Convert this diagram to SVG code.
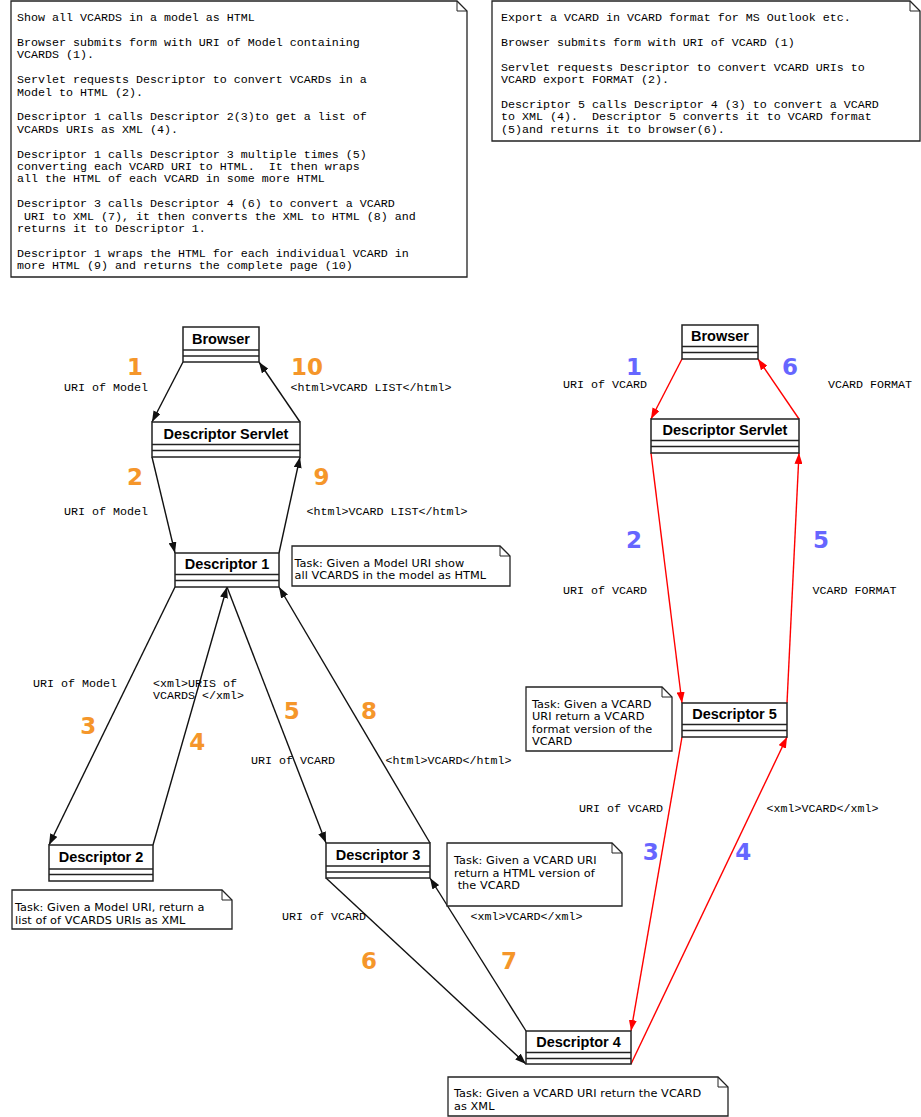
<svg xmlns="http://www.w3.org/2000/svg" width="921" height="1117" viewBox="0 0 921 1117">
<style>
.bg{fill:#fff}
.box{fill:#fff;stroke:#222;stroke-width:1.5}
.sep{stroke:#222;stroke-width:1.5}
.title{font-family:"Liberation Sans",Arial,sans-serif;font-weight:bold;font-size:14.5px;fill:#000;text-anchor:middle}
.note{fill:#fff;stroke:#222;stroke-width:1.3}
.fold{fill:none;stroke:#222;stroke-width:1}
.mono{font-family:"Liberation Mono","Courier New",monospace;font-size:11.67px;fill:#000;white-space:pre}
.task{font-family:"DejaVu Sans","Liberation Sans",sans-serif;font-size:11.3px;fill:#000;white-space:pre;letter-spacing:0.05px}
.num{font-family:"DejaVu Sans",sans-serif;font-weight:bold;font-size:23px;text-anchor:middle}
.or{fill:#F5962A}
.bl{fill:#6666FF}
.cb{stroke:#111;stroke-width:1.4;fill:none}
.cr{stroke:#FF0000;stroke-width:1.4;fill:none}
</style>
<defs>
<marker id="ab" markerWidth="11" markerHeight="8" refX="11" refY="4" orient="auto" markerUnits="userSpaceOnUse"><path d="M0,0 L11,4 L0,8 Z" fill="#111"/></marker>
<marker id="ar" markerWidth="11" markerHeight="8" refX="11" refY="4" orient="auto" markerUnits="userSpaceOnUse"><path d="M0,0 L11,4 L0,8 Z" fill="#FF0000"/></marker>
</defs>
<rect class="bg" x="0" y="0" width="921" height="1117"/>

<g id="note-left">
<path class="note" d="M11,1 H457 L467,11 V277 H11 Z"/>
<path class="fold" d="M457,1 V11 H467"/>
<text class="mono" x="17" y="21">Show all VCARDS in a model as HTML</text>
<text class="mono" x="17" y="46">Browser submits form with URI of Model containing</text>
<text class="mono" x="17" y="58.4">VCARDS (1).</text>
<text class="mono" x="17" y="83.2">Servlet requests Descriptor to convert VCARDs in a</text>
<text class="mono" x="17" y="95.6">Model to HTML (2).</text>
<text class="mono" x="17" y="120.4">Descriptor 1 calls Descriptor 2(3)to get a list of</text>
<text class="mono" x="17" y="132.8">VCARDs URIs as XML (4).</text>
<text class="mono" x="17" y="157.6">Descriptor 1 calls Descriptor 3 multiple times (5)</text>
<text class="mono" x="17" y="170">converting each VCARD URI to HTML.  It then wraps</text>
<text class="mono" x="17" y="182.4">all the HTML of each VCARD in some more HTML</text>
<text class="mono" x="17" y="207.2">Descriptor 3 calls Descriptor 4 (6) to convert a VCARD</text>
<text class="mono" x="17" y="219.6"> URI to XML (7), it then converts the XML to HTML (8) and</text>
<text class="mono" x="17" y="232">returns it to Descriptor 1.</text>
<text class="mono" x="17" y="256.8">Descriptor 1 wraps the HTML for each individual VCARD in</text>
<text class="mono" x="17" y="269.2">more HTML (9) and returns the complete page (10)</text>
</g>

<g id="note-right">
<path class="note" d="M492,1 H910 L920,11 V141 H492 Z"/>
<path class="fold" d="M910,1 V11 H920"/>
<text class="mono" x="501" y="21">Export a VCARD in VCARD format for MS Outlook etc.</text>
<text class="mono" x="501" y="45.8">Browser submits form with URI of VCARD (1)</text>
<text class="mono" x="501" y="70.6">Servlet requests Descriptor to convert VCARD URIs to</text>
<text class="mono" x="501" y="83">VCARD export FORMAT (2).</text>
<text class="mono" x="501" y="107.8">Descriptor 5 calls Descriptor 4 (3) to convert a VCARD</text>
<text class="mono" x="501" y="120.2">to XML (4).  Descriptor 5 converts it to VCARD format</text>
<text class="mono" x="501" y="132.6">(5)and returns it to browser(6).</text>
</g>

<g id="connectors">
<line class="cb" x1="183" y1="362" x2="152" y2="422" marker-end="url(#ab)"/>
<line class="cb" x1="300" y1="422" x2="259" y2="362" marker-end="url(#ab)"/>
<line class="cb" x1="152" y1="457" x2="175" y2="553" marker-end="url(#ab)"/>
<line class="cb" x1="279" y1="553" x2="300" y2="457" marker-end="url(#ab)"/>
<line class="cb" x1="175" y1="587" x2="49" y2="845" marker-end="url(#ab)"/>
<line class="cb" x1="153" y1="845" x2="227" y2="587" marker-end="url(#ab)"/>
<line class="cb" x1="227" y1="587" x2="326" y2="843" marker-end="url(#ab)"/>
<line class="cb" x1="430" y1="843" x2="279" y2="587" marker-end="url(#ab)"/>
<line class="cb" x1="326" y1="878" x2="526" y2="1064" marker-end="url(#ab)"/>
<line class="cb" x1="526" y1="1031" x2="430" y2="878" marker-end="url(#ab)"/>
<line class="cr" x1="682" y1="359" x2="651" y2="419" marker-end="url(#ar)"/>
<line class="cr" x1="799" y1="419" x2="758" y2="359" marker-end="url(#ar)"/>
<line class="cr" x1="651" y1="453" x2="682" y2="703" marker-end="url(#ar)"/>
<line class="cr" x1="787" y1="703" x2="799" y2="453" marker-end="url(#ar)"/>
<line class="cr" x1="682" y1="737" x2="631" y2="1031" marker-end="url(#ar)"/>
<line class="cr" x1="631" y1="1064" x2="787" y2="737" marker-end="url(#ar)"/>
</g>

<g id="labels">
<text class="num or" x="135" y="374.5">1</text>
<text class="mono" x="64" y="390.5">URI of Model</text>
<text class="num or" x="307" y="374.5">10</text>
<text class="mono" x="290.5" y="390.5">&lt;html&gt;VCARD LIST&lt;/html&gt;</text>
<text class="num or" x="135" y="485">2</text>
<text class="mono" x="64" y="515">URI of Model</text>
<text class="num or" x="321.5" y="485">9</text>
<text class="mono" x="306.5" y="515">&lt;html&gt;VCARD LIST&lt;/html&gt;</text>
<text class="mono" x="33" y="686.5">URI of Model</text>
<text class="mono" x="153" y="686.5">&lt;xml&gt;URIS of</text>
<text class="mono" x="153" y="699">VCARDS &lt;/xml&gt;</text>
<text class="num or" x="88.3" y="734">3</text>
<text class="num or" x="197.3" y="750">4</text>
<text class="num or" x="291.7" y="719.3">5</text>
<text class="num or" x="369" y="719.3">8</text>
<text class="mono" x="251" y="764.3">URI of VCARD</text>
<text class="mono" x="385.5" y="764.3">&lt;html&gt;VCARD&lt;/html&gt;</text>
<text class="mono" x="282" y="920">URI of VCARD</text>
<text class="mono" x="470.5" y="920">&lt;xml&gt;VCARD&lt;/xml&gt;</text>
<text class="num or" x="369" y="968.5">6</text>
<text class="num or" x="509" y="968.5">7</text>
<text class="num bl" x="634" y="375">1</text>
<text class="mono" x="563" y="388">URI of VCARD</text>
<text class="num bl" x="790" y="375">6</text>
<text class="mono" x="828" y="388">VCARD FORMAT</text>
<text class="num bl" x="634" y="547.7">2</text>
<text class="mono" x="563" y="594">URI of VCARD</text>
<text class="num bl" x="821" y="547.7">5</text>
<text class="mono" x="812.5" y="594">VCARD FORMAT</text>
<text class="mono" x="579" y="811.7">URI of VCARD</text>
<text class="mono" x="766.5" y="811.7">&lt;xml&gt;VCARD&lt;/xml&gt;</text>
<text class="num bl" x="650.7" y="860">3</text>
<text class="num bl" x="743.3" y="860">4</text>
</g>

<g id="browser-left">
<rect class="box" x="183" y="327" width="76" height="35"/>
<line class="sep" x1="183" y1="350" x2="259" y2="350"/>
<line class="sep" x1="183" y1="356" x2="259" y2="356"/>
<text class="title" x="221" y="343.5">Browser</text>
</g>
<g id="servlet-left">
<rect class="box" x="152" y="422" width="148" height="35"/>
<line class="sep" x1="152" y1="444.5" x2="300" y2="444.5"/>
<line class="sep" x1="152" y1="450.5" x2="300" y2="450.5"/>
<text class="title" x="226" y="438.5">Descriptor Servlet</text>
</g>
<g id="descriptor-1">
<rect class="box" x="175" y="553" width="104" height="34"/>
<line class="sep" x1="175" y1="574.5" x2="279" y2="574.5"/>
<line class="sep" x1="175" y1="580.5" x2="279" y2="580.5"/>
<text class="title" x="227" y="569">Descriptor 1</text>
</g>
<g id="note-d1">
<path class="note" d="M292,546 H500 L510,556 V586 H292 Z"/>
<path class="fold" d="M500,546 V556 H510"/>
<text class="task" x="294.5" y="566.5">Task: Given a Model URI show</text>
<text class="task" x="294.5" y="579">all VCARDS in the model as HTML</text>
</g>
<g id="descriptor-2">
<rect class="box" x="49" y="845" width="104" height="36"/>
<line class="sep" x1="49" y1="869" x2="153" y2="869"/>
<line class="sep" x1="49" y1="874.5" x2="153" y2="874.5"/>
<text class="title" x="101" y="862">Descriptor 2</text>
</g>
<g id="note-d2">
<path class="note" d="M12,890 H222 L232,900 V929 H12 Z"/>
<path class="fold" d="M222,890 V900 H232"/>
<text class="task" x="15" y="910.5">Task: Given a Model URI, return a</text>
<text class="task" x="15" y="923.5">list of of VCARDS URIs as XML</text>
</g>
<g id="descriptor-3">
<rect class="box" x="326" y="843" width="104" height="35"/>
<line class="sep" x1="326" y1="866" x2="430" y2="866"/>
<line class="sep" x1="326" y1="872" x2="430" y2="872"/>
<text class="title" x="378" y="859.5">Descriptor 3</text>
</g>
<g id="note-d3">
<path class="note" d="M447,843 H612 L622,853 V906 H447 Z"/>
<path class="fold" d="M612,843 V853 H622"/>
<text class="task" x="454" y="864">Task: Given a VCARD URI</text>
<text class="task" x="454" y="876.5">return a HTML version of</text>
<text class="task" x="454" y="889"> the VCARD</text>
</g>
<g id="descriptor-4">
<rect class="box" x="526" y="1031" width="105" height="33"/>
<line class="sep" x1="526" y1="1052.5" x2="631" y2="1052.5"/>
<line class="sep" x1="526" y1="1058.5" x2="631" y2="1058.5"/>
<text class="title" x="578.5" y="1047">Descriptor 4</text>
</g>
<g id="note-d4">
<path class="note" d="M448,1077 H718 L728,1087 V1116 H448 Z"/>
<path class="fold" d="M718,1077 V1087 H728"/>
<text class="task" x="454" y="1097">Task: Given a VCARD URI return the VCARD</text>
<text class="task" x="454" y="1110">as XML</text>
</g>
<g id="descriptor-5">
<rect class="box" x="682" y="703" width="105" height="34"/>
<line class="sep" x1="682" y1="724.5" x2="787" y2="724.5"/>
<line class="sep" x1="682" y1="730.5" x2="787" y2="730.5"/>
<text class="title" x="734.5" y="719">Descriptor 5</text>
</g>
<g id="note-d5">
<path class="note" d="M526,687 H662 L672,697 V751 H526 Z"/>
<path class="fold" d="M662,687 V697 H672"/>
<text class="task" x="532" y="707.5">Task: Given a VCARD</text>
<text class="task" x="532" y="720">URI return a VCARD</text>
<text class="task" x="532" y="732.5">format version of the</text>
<text class="task" x="532" y="745">VCARD</text>
</g>
<g id="browser-right">
<rect class="box" x="682" y="325" width="76" height="34"/>
<line class="sep" x1="682" y1="346.5" x2="758" y2="346.5"/>
<line class="sep" x1="682" y1="352.5" x2="758" y2="352.5"/>
<text class="title" x="720" y="341">Browser</text>
</g>
<g id="servlet-right">
<rect class="box" x="651" y="419" width="148" height="34"/>
<line class="sep" x1="651" y1="440.5" x2="799" y2="440.5"/>
<line class="sep" x1="651" y1="446.5" x2="799" y2="446.5"/>
<text class="title" x="725" y="435">Descriptor Servlet</text>
</g>
</svg>
